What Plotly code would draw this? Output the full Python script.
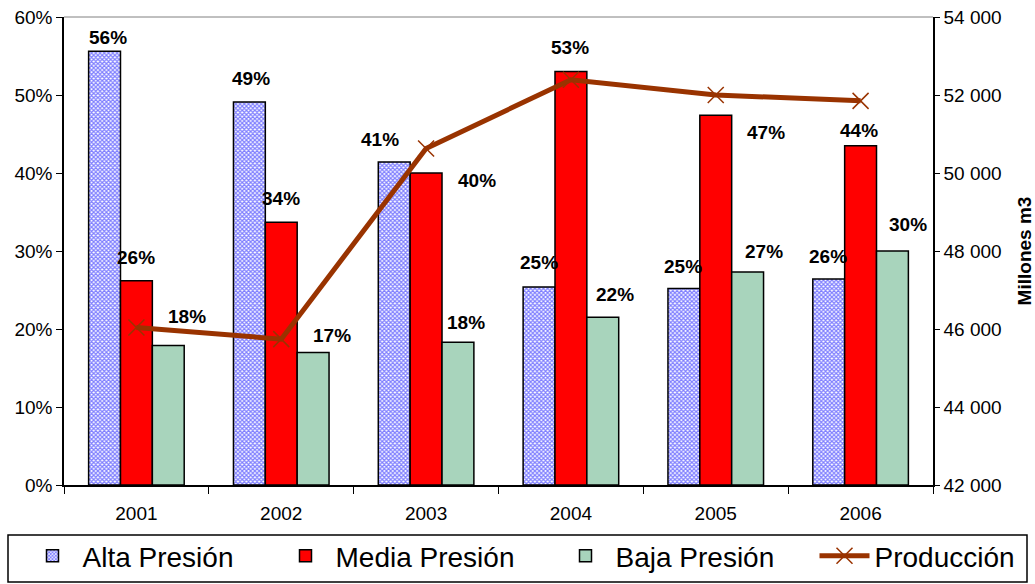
import plotly.graph_objects as go

years = ["2001", "2002", "2003", "2004", "2005", "2006"]
alta = [0.556, 0.491, 0.414, 0.254, 0.252, 0.264]
media = [0.262, 0.337, 0.400, 0.530, 0.474, 0.435]
baja = [0.179, 0.170, 0.183, 0.215, 0.273, 0.300]
produccion = [46040, 45740, 50630, 52390, 52000, 51850]

alta_labels = ["56%", "49%", "41%", "25%", "25%", "26%"]
media_labels = ["26%", "34%", "40%", "53%", "47%", "44%"]
baja_labels = ["18%", "17%", "18%", "22%", "27%", "30%"]

# label offsets (pixels) relative to category centre / bar top
alta_off = [(-28, 14), (-30, 24), (-46, 23), (-32, 24), (-33, 22), (-33, 23)]
media_off = [(0, 23), (0, 24), (51, -7), (-1, 24), (50, -17), (-2, 15)]
baja_off = [(51, 29), (51, 17), (40, 20), (44, 23), (48, 21), (47, 27)]

FONT = "Arial, Liberation Sans, sans-serif"

# layout geometry (pixels)
W, H = 1035, 584
ML, MR, MT, MB = 64, 102, 17, 99
PW, PH = W - ML - MR, H - MT - MB


def px_x(p):
    return (p - ML) / PW


def px_y(p):
    return (H - MB - p) / PH


fig = go.Figure()
fig.add_trace(go.Bar(
    x=years, y=alta, name="Alta Presión", legend="legend", showlegend=True,
    marker=dict(color="#ffffff", line=dict(color="#000000", width=1.5),
                pattern=dict(shape="x", fgcolor="#0000ff", bgcolor="#ffffff", size=3, solidity=0.65)),
))
fig.add_trace(go.Bar(
    x=years, y=media, name="Media Presión", legend="legend2", showlegend=True,
    marker=dict(color="#ff0000", line=dict(color="#000000", width=1.5)),
))
fig.add_trace(go.Bar(
    x=years, y=baja, name="Baja Presión", legend="legend3", showlegend=True,
    marker=dict(color="#a8d4bc", line=dict(color="#000000", width=1.5)),
))
fig.add_trace(go.Scatter(
    x=years, y=produccion, name="Producción", yaxis="y2", mode="lines+markers",
    legend="legend4", showlegend=True,
    line=dict(color="#993300", width=5),
    marker=dict(symbol="x-thin", size=16, line=dict(color="#993300", width=1.5), color="#993300"),
))

annotations = []
for vals, labs, offs in ((alta, alta_labels, alta_off), (media, media_labels, media_off), (baja, baja_labels, baja_off)):
    for i, (v, lab, (dx, dy)) in enumerate(zip(vals, labs, offs)):
        annotations.append(dict(
            x=i, y=v, xref="x", yref="y", text=lab, showarrow=False,
            xshift=dx, yshift=dy, yanchor="middle", xanchor="center",
            font=dict(family=FONT, size=19, color="#000000", weight="bold"),
        ))

legend_text_starts = [84, 337, 617, 876]
ITEMW = 50
legends = {}
for k, ts in enumerate(legend_text_starts):
    key = "legend" if k == 0 else f"legend{k + 1}"
    legends[key] = dict(
        orientation="h", x=px_x(ts - ITEMW - 11.5), xanchor="left",
        y=px_y(531), yanchor="top", visible=True,
        bgcolor="rgba(0,0,0,0)", borderwidth=0,
        font=dict(size=28, family=FONT), itemwidth=ITEMW,
    )

fig.update_layout(
    width=W, height=H, showlegend=True,
    margin=dict(l=ML, r=MR, t=MT, b=MB, autoexpand=False),
    paper_bgcolor="#ffffff", plot_bgcolor="#ffffff",
    barmode="group", bargap=0.34, bargroupgap=0,
    separators=", ",
    font=dict(family=FONT, size=19, color="#000000"),
    annotations=annotations,
    xaxis=dict(
        type="category", automargin=False, range=[-0.5, len(years) - 0.5],
        showline=True, linecolor="#000000", linewidth=1.5,
        ticks="outside", ticklen=7, tickcolor="#000000", tickson="boundaries",
        showgrid=False, tickfont=dict(size=19), tickangle=0, ticklabelstandoff=10,
    ),
    yaxis=dict(
        range=[0, 0.6], dtick=0.1, tickformat=".0%", automargin=False,
        showline=True, linecolor="#000000", linewidth=1.5,
        ticks="outside", ticklen=6, tickcolor="#000000",
        showgrid=False, zeroline=False, tickfont=dict(size=19),
    ),
    yaxis2=dict(
        range=[42000, 54000], dtick=2000, tickformat=",d", automargin=False,
        overlaying="y", side="right",
        showline=True, linecolor="#000000", linewidth=1.5,
        ticks="outside", ticklen=5, tickcolor="#000000",
        showgrid=False, zeroline=False, tickfont=dict(size=19),
        title=dict(text="Millones m3", font=dict(size=19, weight="bold"), standoff=17),
    ),
    shapes=[
        dict(type="line", xref="paper", yref="paper", x0=0, x1=1, y0=1, y1=1,
             line=dict(color="#808080", width=1)),
        dict(type="rect", xref="paper", yref="paper",
             x0=px_x(8), x1=px_x(1027), y0=px_y(582), y1=px_y(535),
             line=dict(color="#000000", width=1.5), fillcolor="rgba(0,0,0,0)"),
    ],
    **legends,
)

fig.write_html("out.html")
